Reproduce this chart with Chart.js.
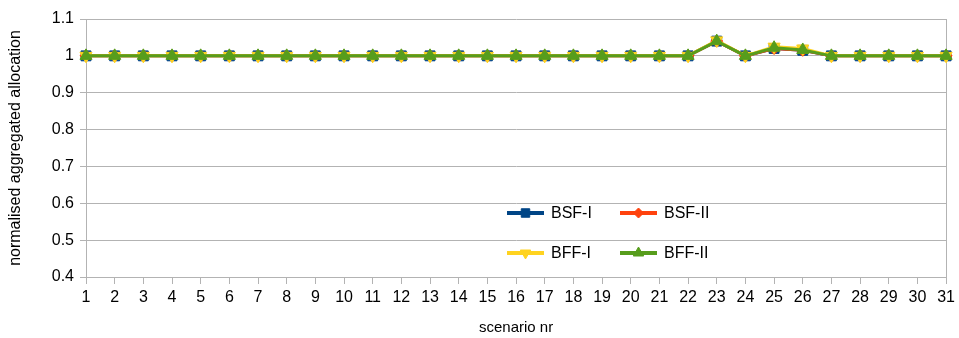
<!DOCTYPE html>
<html>
<head>
<meta charset="utf-8">
<script src="https://cdn.jsdelivr.net/npm/chart.js@4"></script>
<style>
  html, body { margin: 0; padding: 0; background: #fff; }
  #wrap { width: 959px; height: 338px; }
</style>
</head>
<body>
<div id="wrap"><canvas id="allocChart" width="959" height="338"></canvas></div>
<script>
var scenarios = [];
for (var i = 1; i <= 31; i++) scenarios.push(String(i));

var bsf1 = [1,1,1,1,1,1,1,1,1,1,1,1,1,1,1,1,1,1,1,1,1,1,1.04,1,1.02,1.015,1,1,1,1,1];
var bsf2 = [1,1,1,1,1,1,1,1,1,1,1,1,1,1,1,1,1,1,1,1,1,1,1.04,1,1.02,1.015,1,1,1,1,1];
var bff1 = [1,1,1,1,1,1,1,1,1,1,1,1,1,1,1,1,1,1,1,1,1,1,1.042,1,1.025,1.02,1,1,1,1,1];
var bff2 = [1,1,1,1,1,1,1,1,1,1,1,1,1,1,1,1,1,1,1,1,1,1,1.04,1,1.022,1.016,1,1,1,1,1];

var yTicks = [0.4, 0.5, 0.6, 0.7, 0.8, 0.9, 1, 1.1];

var gridGrey = '#b3b3b3';
var fontName = '"Liberation Sans", Arial, sans-serif';

// legend drawn inside the plot, two columns, two rows
var innerLegend = {
    id: 'innerLegend',
    afterDatasetsDraw: function(chart) {
        var c = chart.ctx;
        var items = chart.data.datasets;
        var cols = [507, 620];
        var rows = [213, 253];
        c.save();
        items.forEach(function(ds, k) {
            var x = cols[k % 2], y = rows[Math.floor(k / 2)];
            c.strokeStyle = ds.borderColor;
            c.lineWidth = 4;
            c.beginPath();
            c.moveTo(x, y);
            c.lineTo(x + 37, y);
            c.stroke();
            c.fillStyle = ds.borderColor;
            c.lineWidth = 1;
            Chart.helpers.drawPoint(c, {
                pointStyle: ds.pointStyle,
                rotation: ds.pointRotation || 0,
                radius: ds.pointRadius - 1,
                borderWidth: 1
            }, x + 18.5, y);
            c.fillStyle = '#000';
            c.font = '16px ' + fontName;
            c.textBaseline = 'middle';
            c.fillText(ds.label, x + 44, y + 1);
        });
        c.restore();
    },
    beforeDatasetsDraw: function(chart) {
        // right border of the plot
        var a = chart.chartArea;
        var c = chart.ctx;
        c.save();
        c.strokeStyle = gridGrey;
        c.lineWidth = 1;
        c.beginPath();
        c.moveTo(Math.round(a.right) + 0.5, a.top);
        c.lineTo(Math.round(a.right) + 0.5, a.bottom);
        c.stroke();
        c.restore();
    }
};

function series(label, data, color, style, rot, size, order) {
    return {
        label: label,
        data: data,
        borderColor: color,
        backgroundColor: color,
        pointBackgroundColor: color,
        pointBorderColor: color,
        borderWidth: 3,
        pointStyle: style,
        pointRotation: rot,
        pointRadius: size,
        pointBorderWidth: 1,
        tension: 0,
        order: order
    };
}

var ctx = document.getElementById('allocChart').getContext('2d');
var allocChart = new Chart(ctx, {
    type: 'line',
    data: {
        labels: scenarios,
        datasets: [
            series('BSF-I', bsf1, '#004586', 'rect', 0, 7, 3),
            series('BSF-II', bsf2, '#ff420e', 'rectRot', 0, 6, 2),
            series('BFF-I', bff1, '#ffd320', 'triangle', 180, 7, 1),
            series('BFF-II', bff2, '#579d1c', 'triangle', 0, 7, 0)
        ]
    },
    options: {
        responsive: false,
        animation: false,
        layout: { padding: { top: 19, right: 10, left: 0, bottom: 0 } },
        plugins: {
            legend: { display: false },
            tooltip: { enabled: false }
        },
        scales: {
            x: {
                offset: false,
                afterFit: function(axis) { axis.height = 61; },
                grid: {
                    display: true,
                    drawOnChartArea: false,
                    color: gridGrey,
                    tickLength: 7
                },
                border: { color: gridGrey },
                ticks: {
                    color: '#000',
                    font: { family: fontName, size: 16 },
                    maxRotation: 0,
                    autoSkip: false,
                    padding: 4
                },
                title: {
                    display: true,
                    text: 'scenario nr',
                    color: '#000',
                    font: { family: fontName, size: 15 },
                    padding: { top: 0, bottom: 1 }
                }
            },
            y: {
                min: 0.4,
                max: 1.1,
                afterFit: function(axis) { axis.width = 86; },
                afterBuildTicks: function(axis) {
                    axis.ticks = yTicks.map(function(v) { return { value: v }; });
                },
                grid: {
                    color: gridGrey,
                    tickLength: 6
                },
                border: { color: gridGrey },
                ticks: {
                    color: '#000',
                    font: { family: fontName, size: 16 },
                    padding: 6,
                    callback: function(v) { return String(Math.round(v * 10) / 10); }
                },
                title: {
                    display: true,
                    text: 'normalised aggregated allocation',
                    color: '#000',
                    font: { family: fontName, size: 16 },
                    padding: { top: 6, bottom: 0 }
                }
            }
        }
    },
    plugins: [innerLegend]
});
</script>
</body>
</html>
